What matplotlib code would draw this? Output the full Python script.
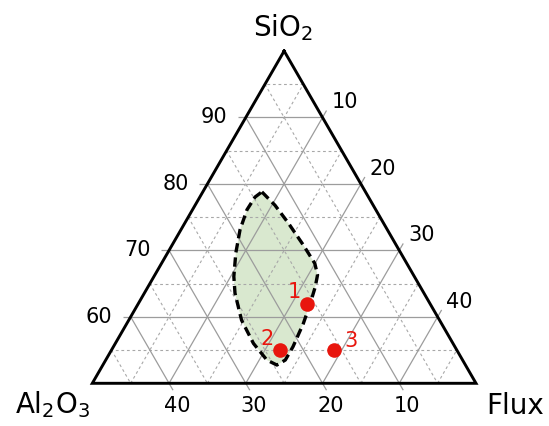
import numpy as np
import matplotlib
matplotlib.use("Agg")
import matplotlib.pyplot as plt

# ---------------- data (wt %) ----------------
region_sio2 = [78.8, 76.8, 74.1, 70.8, 68.1, 66.3, 64.5, 62.0, 59.0, 55.5, 53.5,
               52.8, 53.5, 56.0, 59.5, 63.5, 66.0, 69.6, 73.1, 76.1, 78.1]
region_al2o3 = [13.5, 12.8, 12.4, 12.1, 12.0, 12.5, 13.7, 15.6, 18.0, 21.1, 23.1,
                24.6, 25.5, 26.0, 25.8, 24.6, 23.5, 21.5, 19.2, 16.8, 14.8]
region_flux = [7.7, 10.4, 13.5, 17.1, 20.0, 21.2, 21.8, 22.4, 23.0, 23.4, 23.4,
               22.7, 21.0, 18.0, 14.7, 11.8, 10.4, 8.9, 7.7, 7.1, 7.2]

sample_labels = ["1", "2", "3"]
sample_sio2 = [62, 55, 55]
sample_al2o3 = [16, 23, 16]
sample_flux = [22, 22, 29]

sio2_ticks = [60, 70, 80, 90]
al2o3_ticks = [40, 30, 20, 10]
flux_ticks = [10, 20, 30, 40]
sio2_minor = [55, 65, 75, 85, 95]
side_minor = [5, 15, 25, 35, 45]
SIO2_MIN = 50.0


def to_xy(s, a, f):
    s = np.asarray(s, float)
    a = np.asarray(a, float)
    f = np.asarray(f, float)
    tot = s + a + f
    s, a, f = s / tot * 100, a / tot * 100, f / tot * 100
    span = 100.0 - SIO2_MIN
    sp = (s - SIO2_MIN) / span
    fp = f / span
    return fp + sp / 2.0, sp * np.sqrt(3) / 2.0


fig = plt.figure(figsize=(5.49, 4.26), dpi=100)
ax = fig.add_axes([0, 0, 1, 1])
SCALE = 383.7
X0, Y0 = 92.3, 383.3
ax.set_xlim(-X0 / SCALE, (549 - X0) / SCALE)
ax.set_ylim((Y0 - 426) / SCALE, Y0 / SCALE)
ax.axis("off")

EXT = 8.0 / SCALE
grid_col = "#9c9c9c"
LBL = 15


def seg(p, q, ext_end=0.0, **kw):
    p = np.array(p, float)
    q = np.array(q, float)
    d = q - p
    d /= np.hypot(*d)
    q2 = q + d * ext_end
    ax.plot([p[0], q2[0]], [p[1], q2[1]], **kw)


major_kw = dict(color=grid_col, lw=0.9, zorder=2, solid_capstyle="butt")
minor_kw = dict(color="#a8a8a8", lw=0.8, ls=(0, (2.5, 2.5)), zorder=2)

# SiO2 lines (horizontal)
for v in sio2_ticks:
    right = to_xy(v, 0, 100 - v)
    left = to_xy(v, 100 - v, 0)
    seg(right, left, EXT, **major_kw)
    ax.annotate(str(v), xy=left, xytext=(-32, 0), textcoords="offset pixels",
                ha="center", va="center", fontsize=LBL)
for v in sio2_minor:
    seg(to_xy(v, 0, 100 - v), to_xy(v, 100 - v, 0), **minor_kw)

# Al2O3 lines (parallel to right edge)
for v in al2o3_ticks:
    top = to_xy(100 - v, v, 0)
    bot = to_xy(SIO2_MIN, v, 100 - SIO2_MIN - v)
    seg(top, bot, EXT, **major_kw)
    ax.annotate(str(v), xy=bot, xytext=(8, -23), textcoords="offset pixels",
                ha="center", va="center", fontsize=LBL)
for v in side_minor:
    seg(to_xy(100 - v, v, 0), to_xy(SIO2_MIN, v, 100 - SIO2_MIN - v), **minor_kw)

# Flux lines (parallel to left edge)
for v in flux_ticks:
    bot = to_xy(SIO2_MIN, 100 - SIO2_MIN - v, v)
    top = to_xy(100 - v, 0, v)
    seg(bot, top, EXT, **major_kw)
    ax.annotate(str(v), xy=top, xytext=(22, 15), textcoords="offset pixels",
                ha="center", va="center", fontsize=LBL)
for v in side_minor:
    seg(to_xy(SIO2_MIN, 100 - SIO2_MIN - v, v), to_xy(100 - v, 0, v), **minor_kw)

# field region
rx, ry = to_xy(region_sio2, region_al2o3, region_flux)
ax.fill(rx, ry, color="#d9e8cf", zorder=1, lw=0)
ax.plot(np.append(rx, rx[0]), np.append(ry, ry[0]), color="black", lw=2.4,
        ls=(0, (2.8, 1.5)), zorder=3, solid_joinstyle="round")

# triangle frame
cx, cy = to_xy([100, SIO2_MIN, SIO2_MIN, 100], [0, 100 - SIO2_MIN, 0, 0],
               [0, 0, 100 - SIO2_MIN, 0])
ax.plot(cx, cy, color="black", lw=2.1, zorder=4, solid_joinstyle="miter")

# samples
sx, sy = to_xy(sample_sio2, sample_al2o3, sample_flux)
ax.plot(sx, sy, "o", color="#e8160e", ms=10.5, mec="none", zorder=5)
label_offsets = [(-13, 12), (-13, 11), (17, 9)]
for lab, x, y, off in zip(sample_labels, sx, sy, label_offsets):
    ax.annotate(lab, xy=(x, y), xytext=off, textcoords="offset pixels",
                ha="center", va="center", fontsize=LBL, color="#e8160e", zorder=6)

# vertex titles
fig.text(283 / 549, 1 - 36 / 426, "SiO$_2$", ha="center", va="baseline", fontsize=20)
fig.text(15 / 549, 1 - 413 / 426, "Al$_2$O$_3$", ha="left", va="baseline", fontsize=20)
fig.text(515 / 549, 1 - 414 / 426, "Flux", ha="center", va="baseline", fontsize=20)

fig.savefig("out.png", dpi=100)
